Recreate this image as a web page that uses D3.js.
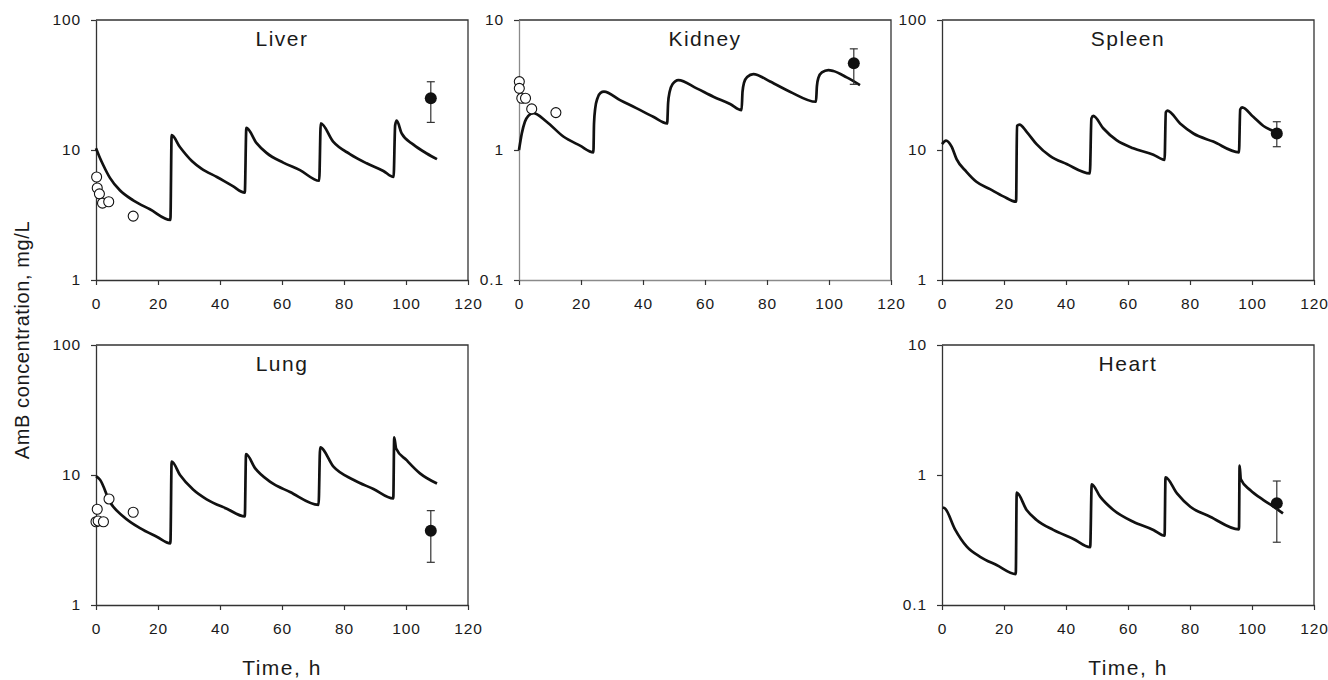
<!DOCTYPE html>
<html>
<head>
<meta charset="utf-8">
<script src="https://cdn.jsdelivr.net/npm/d3@7"></script>
<style>
  html, body { margin: 0; padding: 0; background: #fff; }
  svg { display: block; }
  text { font-family: "Liberation Sans", Arial, Helvetica, sans-serif; fill: #1a1a1a; }
</style>
</head>
<body>
<svg id="chart" width="1328" height="680"></svg>
<script>
// ---- Simulated AmB tissue concentrations (time h, mg/L) ----
const liverModel = [
  [0, 10.3], [1, 9.0], [2.4, 7.6], [4.5, 6.1], [7.7, 4.9], [12, 4.1], [17.4, 3.5], [24, 2.9],
  [24.4, 13.0], [27, 10.6], [31, 8.2], [34, 7.2], [39, 6.2], [44, 5.3], [48, 4.7],
  [48.5, 14.8], [51.8, 11.3], [55, 9.5], [60.4, 8.0], [65.8, 7.0], [72, 5.8],
  [72.5, 16.0], [76.5, 11.6], [81.9, 9.3], [87.3, 7.9], [92.7, 6.9], [96, 6.2],
  [96.5, 15.5], [97, 16.8], [98.6, 13.4], [102.4, 11.0], [106.7, 9.4], [110, 8.5]
];
const kidneyModel = [
  [0, 1.0], [0.9, 1.34], [1.9, 1.65], [3, 1.83], [4.6, 1.92], [8.9, 1.65], [14.3, 1.27], [19.7, 1.08], [24, 0.96],
  [24.2, 1.6], [24.6, 2.1], [25.3, 2.5], [26.3, 2.75], [27.4, 2.81], [32.6, 2.42], [38, 2.09], [43.3, 1.8], [47.8, 1.6],
  [48.1, 2.3], [48.6, 2.8], [49.5, 3.2], [51.4, 3.45], [57.3, 2.98], [62.7, 2.57], [68.1, 2.26], [71.8, 2.03],
  [72.1, 2.8], [72.6, 3.3], [73.6, 3.65], [75.6, 3.84], [81, 3.36], [87.4, 2.81], [95.8, 2.35],
  [96.1, 3.1], [96.6, 3.6], [97.7, 3.95], [99.8, 4.12], [101.4, 4.05], [105.7, 3.62], [110, 3.16]
];
const spleenModel = [
  [0, 11.1], [1.3, 11.8], [3.1, 10.6], [4.7, 8.5], [7.9, 6.8], [11.1, 5.7], [15.5, 5.0], [19.8, 4.4], [23.9, 4.0],
  [24.2, 15.3], [25, 15.7], [27.3, 13.8], [30.5, 11.1], [34.8, 9.0], [40.2, 7.8], [47.7, 6.6],
  [48.2, 17.5], [48.8, 18.3], [52, 14.7], [56.3, 11.9], [61.7, 10.3], [68.2, 9.2], [71.8, 8.4],
  [72.2, 19.5], [72.7, 20.1], [76.8, 16.0], [81.1, 13.4], [87.5, 11.6], [95.8, 9.6],
  [96.2, 20.5], [96.8, 21.3], [100.4, 18.0], [103.7, 15.3], [107, 13.9], [109.6, 12.8]
];
const lungModel = [
  [0, 9.8], [1.3, 9.2], [4.5, 6.2], [8.8, 4.8], [14.2, 3.9], [19.6, 3.35], [24, 2.98],
  [24.4, 12.7], [27.1, 10.0], [31.4, 7.7], [35.7, 6.5], [42.2, 5.5], [48, 4.8],
  [48.4, 14.5], [51.3, 11.3], [56.1, 8.9], [62.6, 7.4], [71.8, 5.9],
  [72.3, 16.3], [76.6, 11.6], [83, 9.2], [89.5, 7.8], [95.9, 6.6],
  [96.2, 19.5], [96.8, 16.0], [100.2, 13.0], [104.5, 10.3], [110, 8.6]
];
const heartModel = [
  [0.3, 0.563], [0.9, 0.555], [4.2, 0.382], [8, 0.281], [12.3, 0.235], [17.6, 0.203], [23.8, 0.173],
  [24.1, 0.731], [27.3, 0.538], [30.5, 0.451], [35.9, 0.378], [42.4, 0.322], [47.8, 0.278],
  [48.3, 0.848], [51, 0.681], [55.3, 0.538], [61.7, 0.437], [68.2, 0.378], [71.8, 0.341],
  [72.1, 0.96], [75.8, 0.723], [80.1, 0.57], [86.5, 0.478], [95.8, 0.382],
  [96, 1.18], [96.4, 0.927], [99.4, 0.767], [103.7, 0.642], [107, 0.57], [110, 0.507]
];

// ---- Observed data after first dose (open circles) ----
const liverObsT = [0.2, 0.4, 1.1, 2.1, 4.1, 12];
const liverObsC = [6.2, 5.1, 4.6, 3.9, 4.0, 3.1];
const kidneyObsT = [0.1, 0.1, 0.9, 2.1, 4.1, 11.9];
const kidneyObsC = [3.36, 2.98, 2.5, 2.5, 2.07, 1.94];
const lungObsT = [0, 0.4, 0.7, 2.4, 4.2, 12];
const lungObsC = [4.37, 5.45, 4.43, 4.37, 6.54, 5.17];

// ---- Observed mean ± SD at 108 h (filled circles) ----
const steadyT = 108;
const liverSS = [25.0, 16.3, 33.5];    // mean, low, high
const kidneySS = [4.65, 3.2, 6.0];
const spleenSS = [13.4, 10.6, 16.5];
const lungSS = [3.73, 2.13, 5.32];
const heartSS = [0.606, 0.304, 0.899];

// ---- Axis ticks ----
const xTicks = [0, 20, 40, 60, 80, 100, 120];
const yTicksHigh = [1, 10, 100];
const yTicksLow = [0.1, 1, 10];

const panels = [
  { title: "Liver",  model: liverModel,  obsT: liverObsT,  obsC: liverObsC,  ss: liverSS,  ticks: yTicksHigh, left: 96,  top: 20 },
  { title: "Kidney", model: kidneyModel, obsT: kidneyObsT, obsC: kidneyObsC, ss: kidneySS, ticks: yTicksLow,  left: 519, top: 20, grey: true },
  { title: "Spleen", model: spleenModel, obsT: [],         obsC: [],         ss: spleenSS, ticks: yTicksHigh, left: 942, top: 20 },
  { title: "Lung",   model: lungModel,   obsT: lungObsT,   obsC: lungObsC,   ss: lungSS,   ticks: yTicksHigh, left: 96,  top: 345, xTitle: true },
  { title: "Heart",  model: heartModel,  obsT: [],         obsC: [],         ss: heartSS,  ticks: yTicksLow,  left: 942, top: 345, xTitle: true }
];

const W = 372, H = 260;
const svg = d3.select("#chart");
const fmt = v => (v < 1 ? d3.format(".1f")(v) : d3.format("d")(v));

panels.forEach(p => {
  const g = svg.append("g").attr("transform", `translate(${p.left},${p.top})`);
  const x = d3.scaleLinear().domain([0, 120]).range([0, W]);
  const y = d3.scaleLog().domain([p.ticks[0], p.ticks[2]]).range([H, 0]);
  const axisColor = p.grey ? "#8a8a8a" : "#333";

  // frame: top and right edges
  g.append("path")
    .attr("d", `M0,0H${W}V${H}`)
    .attr("fill", "none").attr("stroke", "#333").attr("stroke-width", 1.3);

  const xa = g.append("g").attr("transform", `translate(0,${H})`)
    .call(d3.axisBottom(x).tickValues(xTicks).tickSize(5).tickSizeOuter(0).tickPadding(13));
  const ya = g.append("g")
    .call(d3.axisLeft(y).tickValues(p.ticks).tickFormat(fmt).tickSize(5).tickSizeOuter(0).tickPadding(10));
  [xa, ya].forEach(a => {
    a.select(".domain").attr("stroke", axisColor).attr("stroke-width", 1.3);
    a.selectAll(".tick line").attr("stroke", "#333").attr("stroke-width", 1.2);
    a.selectAll(".tick text")
      .style("font-family", '"Liberation Sans", Arial, sans-serif')
      .style("font-size", "15.5px").style("letter-spacing", "0.9px").attr("fill", "#1a1a1a");
  });

  // model curve
  const line = d3.line().curve(d3.curveMonotoneX).x(d => x(d[0])).y(d => y(d[1]));
  g.append("path").datum(p.model)
    .attr("d", line)
    .attr("fill", "none").attr("stroke", "#111").attr("stroke-width", 2.7)
    .attr("stroke-linejoin", "round");

  // early observations
  g.selectAll("circle.obs").data(p.obsT.map((t, i) => [t, p.obsC[i]]))
    .enter().append("circle").attr("class", "obs")
    .attr("cx", d => x(d[0])).attr("cy", d => y(d[1])).attr("r", 5)
    .attr("fill", "#fff").attr("stroke", "#111").attr("stroke-width", 1.1);

  // steady-state mean ± SD
  const cx = x(steadyT);
  g.append("line").attr("x1", cx).attr("x2", cx)
    .attr("y1", y(p.ss[1])).attr("y2", y(p.ss[2]))
    .attr("stroke", "#333").attr("stroke-width", 1.2);
  [p.ss[1], p.ss[2]].forEach(v => {
    g.append("line").attr("x1", cx - 4).attr("x2", cx + 4)
      .attr("y1", y(v)).attr("y2", y(v))
      .attr("stroke", "#333").attr("stroke-width", 1.2);
  });
  g.append("circle").attr("cx", cx).attr("cy", y(p.ss[0])).attr("r", 6).attr("fill", "#111");

  // panel title
  g.append("text").attr("x", W / 2).attr("y", 26)
    .attr("text-anchor", "middle")
    .style("font-size", "21px").style("letter-spacing", "1.5px")
    .text(p.title);

  if (p.xTitle) {
    g.append("text").attr("x", W / 2).attr("y", 330)
      .attr("text-anchor", "middle")
      .style("font-size", "21px").style("letter-spacing", "1.5px")
      .text("Time, h");
  }
});

// shared y-axis title
svg.append("text")
  .attr("transform", "translate(29,340) rotate(-90)")
  .attr("text-anchor", "middle")
  .style("font-size", "20px").style("letter-spacing", "0.6px")
  .text("AmB concentration, mg/L");
</script>
</body>
</html>
